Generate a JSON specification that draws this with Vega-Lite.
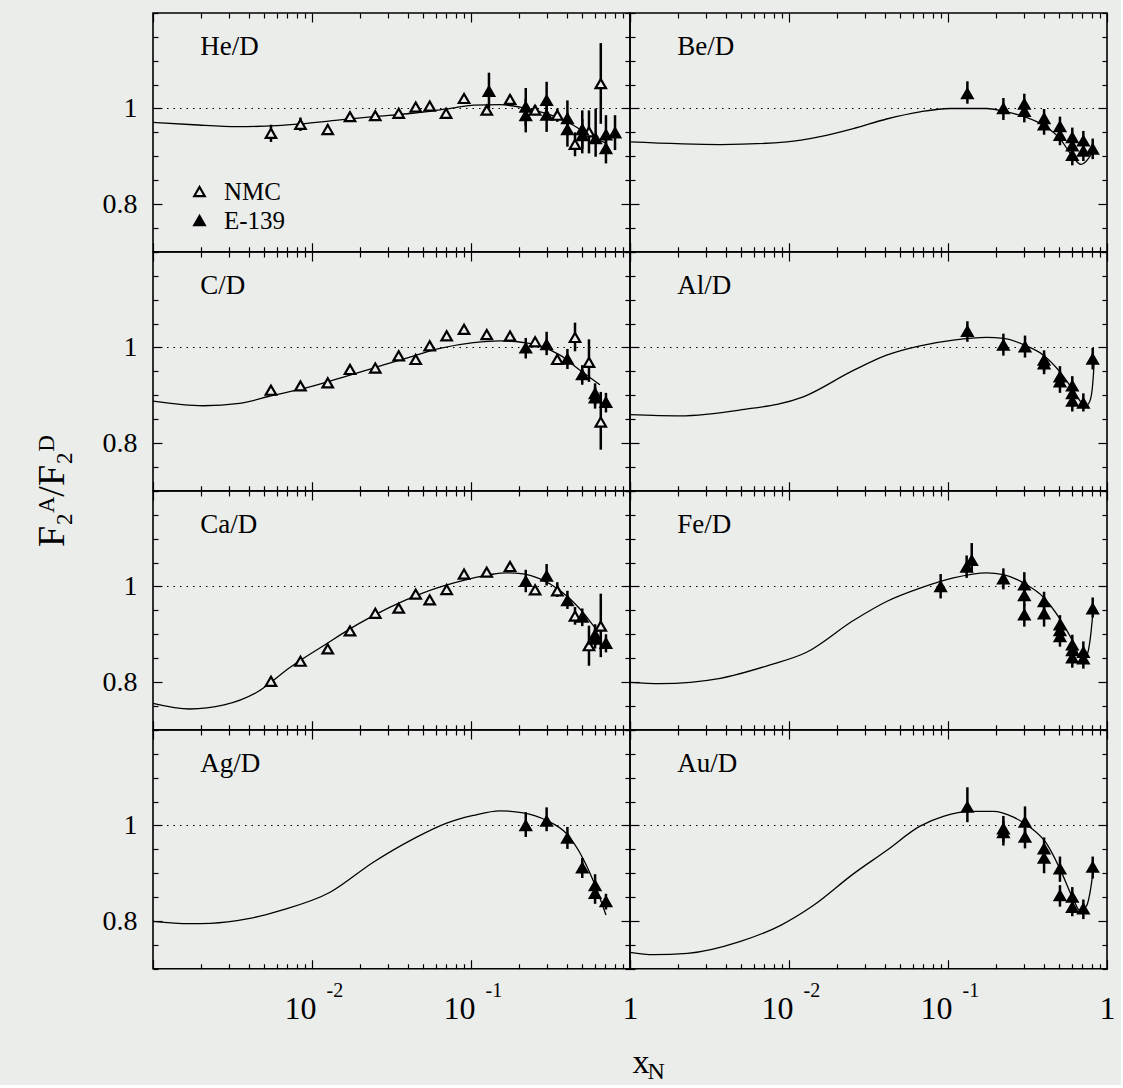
{
"$schema": "https://vega.github.io/schema/vega-lite/v6.json",
"background": "#ebedeb",
"padding": {"left": 32, "top": 11, "right": 5, "bottom": 0},
"config": {
 "view": {"stroke": "black", "strokeWidth": 1.6},
 "axis": {"domain": false, "grid": false, "tickColor": "black", "tickWidth": 1.2, "labelColor": "black", "labelFont": "Liberation Serif", "labelOverlap": false, "labelFlush": false, "labelBound": false, "titleFont": "Liberation Serif", "titleColor": "black", "titleFontWeight": "normal"}
},
"datasets": {
 "d": [
  {"p":"He","s":"c","x":0.001,"y":0.971},{"p":"He","s":"c","x":0.0018,"y":0.966},{"p":"He","s":"c","x":0.0034,"y":0.962},{"p":"He","s":"c","x":0.006,"y":0.964},{"p":"He","s":"c","x":0.0093,"y":0.969},{"p":"He","s":"c","x":0.015,"y":0.976},{"p":"He","s":"c","x":0.0243,"y":0.983},{"p":"He","s":"c","x":0.04,"y":0.989},{"p":"He","s":"c","x":0.055,"y":0.994},{"p":"He","s":"c","x":0.08,"y":1.002},{"p":"He","s":"c","x":0.104,"y":1.007},{"p":"He","s":"c","x":0.152,"y":1.008},{"p":"He","s":"c","x":0.203,"y":1.003},{"p":"He","s":"c","x":0.272,"y":0.993},{"p":"He","s":"c","x":0.363,"y":0.979},{"p":"He","s":"c","x":0.44,"y":0.965},{"p":"He","s":"c","x":0.533,"y":0.948},{"p":"He","s":"c","x":0.63,"y":0.935},{"p":"He","s":"c","x":0.7,"y":0.928},
  {"p":"He","s":"NMC","x":0.00552,"y":0.948,"lo":0.93,"hi":0.966},{"p":"He","s":"NMC","x":0.00846,"y":0.967,"lo":0.953,"hi":0.981},{"p":"He","s":"NMC","x":0.01256,"y":0.956,"lo":0.946,"hi":0.966},{"p":"He","s":"NMC","x":0.01734,"y":0.983,"lo":0.975,"hi":0.991},{"p":"He","s":"NMC","x":0.025,"y":0.985,"lo":0.978,"hi":0.992},{"p":"He","s":"NMC","x":0.0351,"y":0.99,"lo":0.983,"hi":0.997},{"p":"He","s":"NMC","x":0.0449,"y":1.003,"lo":0.996,"hi":1.01},{"p":"He","s":"NMC","x":0.055,"y":1.005,"lo":0.998,"hi":1.012},{"p":"He","s":"NMC","x":0.0697,"y":0.99,"lo":0.983,"hi":0.997},{"p":"He","s":"NMC","x":0.0904,"y":1.021,"lo":1.013,"hi":1.029},{"p":"He","s":"NMC","x":0.1256,"y":0.9965,"lo":0.988,"hi":1.005},{"p":"He","s":"NMC","x":0.176,"y":1.019,"lo":1.01,"hi":1.028},{"p":"He","s":"NMC","x":0.253,"y":0.9965,"lo":0.986,"hi":1.007},{"p":"He","s":"NMC","x":0.349,"y":0.986,"lo":0.972,"hi":1.0},{"p":"He","s":"NMC","x":0.451,"y":0.925,"lo":0.9,"hi":0.95},{"p":"He","s":"NMC","x":0.552,"y":0.951,"lo":0.906,"hi":0.996},{"p":"He","s":"NMC","x":0.655,"y":1.052,"lo":0.968,"hi":1.137},
  {"p":"He","s":"E-139","x":0.1297,"y":1.036,"lo":1.0,"hi":1.075},{"p":"He","s":"E-139","x":0.221,"y":1.003,"lo":0.963,"hi":1.043},{"p":"He","s":"E-139","x":0.221,"y":0.985,"lo":0.95,"hi":1.02},{"p":"He","s":"E-139","x":0.299,"y":1.017,"lo":0.979,"hi":1.056},{"p":"He","s":"E-139","x":0.299,"y":0.986,"lo":0.951,"hi":1.021},{"p":"He","s":"E-139","x":0.404,"y":0.979,"lo":0.944,"hi":1.017},{"p":"He","s":"E-139","x":0.404,"y":0.956,"lo":0.92,"hi":0.991},{"p":"He","s":"E-139","x":0.501,"y":0.956,"lo":0.916,"hi":0.996},{"p":"He","s":"E-139","x":0.501,"y":0.943,"lo":0.906,"hi":0.978},{"p":"He","s":"E-139","x":0.608,"y":0.937,"lo":0.899,"hi":1.0},{"p":"He","s":"E-139","x":0.706,"y":0.945,"lo":0.915,"hi":0.986},{"p":"He","s":"E-139","x":0.706,"y":0.916,"lo":0.885,"hi":0.95},{"p":"He","s":"E-139","x":0.805,"y":0.949,"lo":0.913,"hi":0.986},

  {"p":"Be","s":"c","x":0.001,"y":0.93},{"p":"Be","s":"c","x":0.0037,"y":0.9245},{"p":"Be","s":"c","x":0.0097,"y":0.93},{"p":"Be","s":"c","x":0.0157,"y":0.941},{"p":"Be","s":"c","x":0.0254,"y":0.958},{"p":"Be","s":"c","x":0.0411,"y":0.978},{"p":"Be","s":"c","x":0.0667,"y":0.993},{"p":"Be","s":"c","x":0.103,"y":1.0},{"p":"Be","s":"c","x":0.175,"y":1.0},{"p":"Be","s":"c","x":0.223,"y":0.994},{"p":"Be","s":"c","x":0.305,"y":0.9825},{"p":"Be","s":"c","x":0.398,"y":0.965},{"p":"Be","s":"c","x":0.506,"y":0.937},{"p":"Be","s":"c","x":0.6,"y":0.902},{"p":"Be","s":"c","x":0.686,"y":0.883},{"p":"Be","s":"c","x":0.763,"y":0.895},{"p":"Be","s":"c","x":0.821,"y":0.913},
  {"p":"Be","s":"E-139","x":0.1324,"y":1.031,"lo":1.01,"hi":1.057},{"p":"Be","s":"E-139","x":0.223,"y":1.0,"lo":0.976,"hi":1.022},{"p":"Be","s":"E-139","x":0.302,"y":1.009,"lo":0.988,"hi":1.031},{"p":"Be","s":"E-139","x":0.302,"y":0.994,"lo":0.971,"hi":1.012},{"p":"Be","s":"E-139","x":0.402,"y":0.979,"lo":0.958,"hi":0.999},{"p":"Be","s":"E-139","x":0.402,"y":0.966,"lo":0.945,"hi":0.987},{"p":"Be","s":"E-139","x":0.506,"y":0.962,"lo":0.941,"hi":0.983},{"p":"Be","s":"E-139","x":0.506,"y":0.944,"lo":0.923,"hi":0.965},{"p":"Be","s":"E-139","x":0.605,"y":0.939,"lo":0.918,"hi":0.96},{"p":"Be","s":"E-139","x":0.605,"y":0.922,"lo":0.9,"hi":0.943},{"p":"Be","s":"E-139","x":0.605,"y":0.902,"lo":0.881,"hi":0.923},{"p":"Be","s":"E-139","x":0.71,"y":0.932,"lo":0.912,"hi":0.953},{"p":"Be","s":"E-139","x":0.71,"y":0.911,"lo":0.89,"hi":0.932},{"p":"Be","s":"E-139","x":0.813,"y":0.915,"lo":0.894,"hi":0.937},

  {"p":"C","s":"c","x":0.001,"y":0.8875},{"p":"C","s":"c","x":0.00207,"y":0.878},{"p":"C","s":"c","x":0.0035,"y":0.883},{"p":"C","s":"c","x":0.0057,"y":0.9},{"p":"C","s":"c","x":0.0093,"y":0.916},{"p":"C","s":"c","x":0.015,"y":0.936},{"p":"C","s":"c","x":0.0243,"y":0.957},{"p":"C","s":"c","x":0.0394,"y":0.978},{"p":"C","s":"c","x":0.0638,"y":0.998},{"p":"C","s":"c","x":0.1035,"y":1.01},{"p":"C","s":"c","x":0.152,"y":1.014},{"p":"C","s":"c","x":0.213,"y":1.0105},{"p":"C","s":"c","x":0.272,"y":1.0035},{"p":"C","s":"c","x":0.363,"y":0.984},{"p":"C","s":"c","x":0.485,"y":0.9525},{"p":"C","s":"c","x":0.647,"y":0.922},
  {"p":"C","s":"NMC","x":0.00552,"y":0.9106,"lo":0.904,"hi":0.917},{"p":"C","s":"NMC","x":0.00846,"y":0.9196,"lo":0.913,"hi":0.926},{"p":"C","s":"NMC","x":0.01256,"y":0.926,"lo":0.92,"hi":0.932},{"p":"C","s":"NMC","x":0.01734,"y":0.954,"lo":0.948,"hi":0.96},{"p":"C","s":"NMC","x":0.025,"y":0.957,"lo":0.951,"hi":0.963},{"p":"C","s":"NMC","x":0.0351,"y":0.9825,"lo":0.977,"hi":0.988},{"p":"C","s":"NMC","x":0.0449,"y":0.975,"lo":0.969,"hi":0.981},{"p":"C","s":"NMC","x":0.055,"y":1.0035,"lo":0.997,"hi":1.01},{"p":"C","s":"NMC","x":0.0703,"y":1.0245,"lo":1.018,"hi":1.031},{"p":"C","s":"NMC","x":0.0904,"y":1.038,"lo":1.031,"hi":1.045},{"p":"C","s":"NMC","x":0.1256,"y":1.027,"lo":1.02,"hi":1.034},{"p":"C","s":"NMC","x":0.176,"y":1.024,"lo":1.017,"hi":1.031},{"p":"C","s":"NMC","x":0.253,"y":1.012,"lo":1.004,"hi":1.02},{"p":"C","s":"NMC","x":0.349,"y":0.975,"lo":0.965,"hi":0.985},{"p":"C","s":"NMC","x":0.451,"y":1.021,"lo":0.992,"hi":1.052},{"p":"C","s":"NMC","x":0.552,"y":0.969,"lo":0.928,"hi":1.017},{"p":"C","s":"NMC","x":0.655,"y":0.844,"lo":0.786,"hi":0.907},
  {"p":"C","s":"E-139","x":0.221,"y":0.999,"lo":0.977,"hi":1.02},{"p":"C","s":"E-139","x":0.299,"y":1.006,"lo":0.984,"hi":1.033},{"p":"C","s":"E-139","x":0.404,"y":0.9755,"lo":0.955,"hi":0.997},{"p":"C","s":"E-139","x":0.501,"y":0.943,"lo":0.922,"hi":0.963},{"p":"C","s":"E-139","x":0.603,"y":0.9035,"lo":0.88,"hi":0.925},{"p":"C","s":"E-139","x":0.603,"y":0.8945,"lo":0.872,"hi":0.917},{"p":"C","s":"E-139","x":0.706,"y":0.885,"lo":0.864,"hi":0.905},

  {"p":"Al","s":"c","x":0.001,"y":0.8595},{"p":"Al","s":"c","x":0.00206,"y":0.857},{"p":"Al","s":"c","x":0.0049,"y":0.869},{"p":"Al","s":"c","x":0.0123,"y":0.8966},{"p":"Al","s":"c","x":0.0254,"y":0.952},{"p":"Al","s":"c","x":0.0411,"y":0.984},{"p":"Al","s":"c","x":0.0667,"y":1.0035},{"p":"Al","s":"c","x":0.108,"y":1.0154},{"p":"Al","s":"c","x":0.175,"y":1.021},{"p":"Al","s":"c","x":0.223,"y":1.019},{"p":"Al","s":"c","x":0.313,"y":1.003},{"p":"Al","s":"c","x":0.398,"y":0.984},{"p":"Al","s":"c","x":0.506,"y":0.949},{"p":"Al","s":"c","x":0.613,"y":0.9106},{"p":"Al","s":"c","x":0.71,"y":0.881},{"p":"Al","s":"c","x":0.745,"y":0.879},{"p":"Al","s":"c","x":0.789,"y":0.893},{"p":"Al","s":"c","x":0.821,"y":0.942},{"p":"Al","s":"c","x":0.832,"y":0.975},
  {"p":"Al","s":"E-139","x":0.1324,"y":1.034,"lo":1.012,"hi":1.055},{"p":"Al","s":"E-139","x":0.223,"y":1.005,"lo":0.983,"hi":1.029},{"p":"Al","s":"E-139","x":0.305,"y":1.0015,"lo":0.979,"hi":1.025},{"p":"Al","s":"E-139","x":0.402,"y":0.9735,"lo":0.95,"hi":0.994},{"p":"Al","s":"E-139","x":0.402,"y":0.966,"lo":0.944,"hi":0.987},{"p":"Al","s":"E-139","x":0.506,"y":0.9385,"lo":0.917,"hi":0.961},{"p":"Al","s":"E-139","x":0.506,"y":0.928,"lo":0.905,"hi":0.95},{"p":"Al","s":"E-139","x":0.605,"y":0.9196,"lo":0.897,"hi":0.94},{"p":"Al","s":"E-139","x":0.605,"y":0.9036,"lo":0.881,"hi":0.925},{"p":"Al","s":"E-139","x":0.605,"y":0.8875,"lo":0.866,"hi":0.909},{"p":"Al","s":"E-139","x":0.71,"y":0.8833,"lo":0.866,"hi":0.904},{"p":"Al","s":"E-139","x":0.813,"y":0.9755,"lo":0.954,"hi":0.999},

  {"p":"Ca","s":"c","x":0.001,"y":0.7554},{"p":"Ca","s":"c","x":0.0017,"y":0.7435},{"p":"Ca","s":"c","x":0.0028,"y":0.752},{"p":"Ca","s":"c","x":0.0045,"y":0.7785},{"p":"Ca","s":"c","x":0.0073,"y":0.831},{"p":"Ca","s":"c","x":0.0118,"y":0.876},{"p":"Ca","s":"c","x":0.0191,"y":0.9196},{"p":"Ca","s":"c","x":0.031,"y":0.9567},{"p":"Ca","s":"c","x":0.0501,"y":0.9867},{"p":"Ca","s":"c","x":0.0813,"y":1.009},{"p":"Ca","s":"c","x":0.1318,"y":1.025},{"p":"Ca","s":"c","x":0.1675,"y":1.0287},{"p":"Ca","s":"c","x":0.213,"y":1.0266},{"p":"Ca","s":"c","x":0.272,"y":1.016},{"p":"Ca","s":"c","x":0.363,"y":0.9916},{"p":"Ca","s":"c","x":0.485,"y":0.953},{"p":"Ca","s":"c","x":0.588,"y":0.918},{"p":"Ca","s":"c","x":0.63,"y":0.905},
  {"p":"Ca","s":"NMC","x":0.00552,"y":0.8015,"lo":0.793,"hi":0.81},{"p":"Ca","s":"NMC","x":0.00846,"y":0.8435,"lo":0.836,"hi":0.851},{"p":"Ca","s":"NMC","x":0.01256,"y":0.8693,"lo":0.862,"hi":0.876},{"p":"Ca","s":"NMC","x":0.01734,"y":0.907,"lo":0.9,"hi":0.914},{"p":"Ca","s":"NMC","x":0.025,"y":0.944,"lo":0.937,"hi":0.951},{"p":"Ca","s":"NMC","x":0.0351,"y":0.9546,"lo":0.948,"hi":0.961},{"p":"Ca","s":"NMC","x":0.0449,"y":0.984,"lo":0.977,"hi":0.991},{"p":"Ca","s":"NMC","x":0.055,"y":0.972,"lo":0.965,"hi":0.979},{"p":"Ca","s":"NMC","x":0.0703,"y":0.9937,"lo":0.987,"hi":1.0},{"p":"Ca","s":"NMC","x":0.0904,"y":1.026,"lo":1.019,"hi":1.033},{"p":"Ca","s":"NMC","x":0.1256,"y":1.03,"lo":1.023,"hi":1.037},{"p":"Ca","s":"NMC","x":0.176,"y":1.042,"lo":1.035,"hi":1.049},{"p":"Ca","s":"NMC","x":0.253,"y":0.993,"lo":0.985,"hi":1.001},{"p":"Ca","s":"NMC","x":0.349,"y":0.991,"lo":0.978,"hi":1.009},{"p":"Ca","s":"NMC","x":0.451,"y":0.938,"lo":0.92,"hi":0.957},{"p":"Ca","s":"NMC","x":0.552,"y":0.876,"lo":0.834,"hi":0.918},{"p":"Ca","s":"NMC","x":0.655,"y":0.917,"lo":0.852,"hi":0.985},
  {"p":"Ca","s":"E-139","x":0.221,"y":1.011,"lo":0.988,"hi":1.035},{"p":"Ca","s":"E-139","x":0.299,"y":1.022,"lo":1.002,"hi":1.047},{"p":"Ca","s":"E-139","x":0.404,"y":0.9706,"lo":0.953,"hi":0.991},{"p":"Ca","s":"E-139","x":0.501,"y":0.9357,"lo":0.917,"hi":0.954},{"p":"Ca","s":"E-139","x":0.603,"y":0.8987,"lo":0.876,"hi":0.921},{"p":"Ca","s":"E-139","x":0.603,"y":0.89,"lo":0.87,"hi":0.91},{"p":"Ca","s":"E-139","x":0.706,"y":0.881,"lo":0.862,"hi":0.9},

  {"p":"Fe","s":"c","x":0.001,"y":0.7994},{"p":"Fe","s":"c","x":0.00155,"y":0.7966},{"p":"Fe","s":"c","x":0.0037,"y":0.8078},{"p":"Fe","s":"c","x":0.0076,"y":0.8358},{"p":"Fe","s":"c","x":0.0129,"y":0.8623},{"p":"Fe","s":"c","x":0.0254,"y":0.9287},{"p":"Fe","s":"c","x":0.0411,"y":0.9686},{"p":"Fe","s":"c","x":0.0667,"y":0.9965},{"p":"Fe","s":"c","x":0.108,"y":1.018},{"p":"Fe","s":"c","x":0.175,"y":1.0287},{"p":"Fe","s":"c","x":0.223,"y":1.025},{"p":"Fe","s":"c","x":0.305,"y":1.0056},{"p":"Fe","s":"c","x":0.398,"y":0.9776},{"p":"Fe","s":"c","x":0.506,"y":0.932},{"p":"Fe","s":"c","x":0.613,"y":0.8833},{"p":"Fe","s":"c","x":0.693,"y":0.848},{"p":"Fe","s":"c","x":0.745,"y":0.855},{"p":"Fe","s":"c","x":0.789,"y":0.897},{"p":"Fe","s":"c","x":0.821,"y":0.9567},
  {"p":"Fe","s":"E-139","x":0.0899,"y":1.0,"lo":0.975,"hi":1.026},{"p":"Fe","s":"E-139","x":0.131,"y":1.0405,"lo":1.018,"hi":1.065},{"p":"Fe","s":"E-139","x":0.141,"y":1.0545,"lo":1.03,"hi":1.091},{"p":"Fe","s":"E-139","x":0.223,"y":1.016,"lo":0.994,"hi":1.038},{"p":"Fe","s":"E-139","x":0.302,"y":1.0035,"lo":0.981,"hi":1.03},{"p":"Fe","s":"E-139","x":0.302,"y":0.981,"lo":0.96,"hi":1.0},{"p":"Fe","s":"E-139","x":0.302,"y":0.9406,"lo":0.916,"hi":0.963},{"p":"Fe","s":"E-139","x":0.402,"y":0.9686,"lo":0.948,"hi":0.989},{"p":"Fe","s":"E-139","x":0.402,"y":0.9427,"lo":0.916,"hi":0.963},{"p":"Fe","s":"E-139","x":0.506,"y":0.9196,"lo":0.899,"hi":0.94},{"p":"Fe","s":"E-139","x":0.506,"y":0.9078,"lo":0.887,"hi":0.928},{"p":"Fe","s":"E-139","x":0.506,"y":0.8952,"lo":0.874,"hi":0.916},{"p":"Fe","s":"E-139","x":0.605,"y":0.8777,"lo":0.856,"hi":0.899},{"p":"Fe","s":"E-139","x":0.605,"y":0.8658,"lo":0.845,"hi":0.886},{"p":"Fe","s":"E-139","x":0.605,"y":0.8505,"lo":0.83,"hi":0.872},{"p":"Fe","s":"E-139","x":0.71,"y":0.8623,"lo":0.84,"hi":0.885},{"p":"Fe","s":"E-139","x":0.71,"y":0.8484,"lo":0.828,"hi":0.869},{"p":"Fe","s":"E-139","x":0.813,"y":0.9532,"lo":0.935,"hi":0.977},

  {"p":"Ag","s":"c","x":0.001,"y":0.7994},{"p":"Ag","s":"c","x":0.0017,"y":0.7945},{"p":"Ag","s":"c","x":0.0023,"y":0.7952},{"p":"Ag","s":"c","x":0.0039,"y":0.8043},{"p":"Ag","s":"c","x":0.0063,"y":0.8218},{"p":"Ag","s":"c","x":0.013,"y":0.8602},{"p":"Ag","s":"c","x":0.0243,"y":0.9231},{"p":"Ag","s":"c","x":0.0434,"y":0.972},{"p":"Ag","s":"c","x":0.0703,"y":1.005},{"p":"Ag","s":"c","x":0.1035,"y":1.021},{"p":"Ag","s":"c","x":0.152,"y":1.0307},{"p":"Ag","s":"c","x":0.213,"y":1.0266},{"p":"Ag","s":"c","x":0.299,"y":1.0105},{"p":"Ag","s":"c","x":0.4,"y":0.9825},{"p":"Ag","s":"c","x":0.508,"y":0.93},{"p":"Ag","s":"c","x":0.616,"y":0.8672},{"p":"Ag","s":"c","x":0.706,"y":0.8127},
  {"p":"Ag","s":"E-139","x":0.221,"y":1.0,"lo":0.976,"hi":1.028},{"p":"Ag","s":"E-139","x":0.299,"y":1.009,"lo":0.988,"hi":1.038},{"p":"Ag","s":"E-139","x":0.404,"y":0.9734,"lo":0.951,"hi":0.997},{"p":"Ag","s":"E-139","x":0.501,"y":0.9112,"lo":0.89,"hi":0.932},{"p":"Ag","s":"E-139","x":0.603,"y":0.8742,"lo":0.855,"hi":0.898},{"p":"Ag","s":"E-139","x":0.603,"y":0.858,"lo":0.836,"hi":0.878},{"p":"Ag","s":"E-139","x":0.706,"y":0.8407,"lo":0.824,"hi":0.857},

  {"p":"Au","s":"c","x":0.001,"y":0.7345},{"p":"Au","s":"c","x":0.0014,"y":0.7296},{"p":"Au","s":"c","x":0.0023,"y":0.7323},{"p":"Au","s":"c","x":0.0049,"y":0.7568},{"p":"Au","s":"c","x":0.0088,"y":0.7904},{"p":"Au","s":"c","x":0.0142,"y":0.8323},{"p":"Au","s":"c","x":0.0254,"y":0.8987},{"p":"Au","s":"c","x":0.0411,"y":0.9476},{"p":"Au","s":"c","x":0.0667,"y":0.9986},{"p":"Au","s":"c","x":0.0935,"y":1.0189},{"p":"Au","s":"c","x":0.1375,"y":1.0294},{"p":"Au","s":"c","x":0.193,"y":1.0294},{"p":"Au","s":"c","x":0.258,"y":1.0175},{"p":"Au","s":"c","x":0.328,"y":0.9965},{"p":"Au","s":"c","x":0.418,"y":0.9616},{"p":"Au","s":"c","x":0.506,"y":0.9092},{"p":"Au","s":"c","x":0.613,"y":0.8463},{"p":"Au","s":"c","x":0.676,"y":0.8218},{"p":"Au","s":"c","x":0.745,"y":0.8323},{"p":"Au","s":"c","x":0.789,"y":0.8672},{"p":"Au","s":"c","x":0.821,"y":0.9092},
  {"p":"Au","s":"E-139","x":0.1324,"y":1.0384,"lo":1.007,"hi":1.08},{"p":"Au","s":"E-139","x":0.223,"y":0.993,"lo":0.965,"hi":1.02},{"p":"Au","s":"E-139","x":0.223,"y":0.985,"lo":0.958,"hi":1.01},{"p":"Au","s":"E-139","x":0.305,"y":1.007,"lo":0.983,"hi":1.04},{"p":"Au","s":"E-139","x":0.305,"y":0.9755,"lo":0.952,"hi":0.998},{"p":"Au","s":"E-139","x":0.402,"y":0.951,"lo":0.93,"hi":0.975},{"p":"Au","s":"E-139","x":0.402,"y":0.9315,"lo":0.9,"hi":0.955},{"p":"Au","s":"E-139","x":0.506,"y":0.909,"lo":0.882,"hi":0.935},{"p":"Au","s":"E-139","x":0.506,"y":0.8533,"lo":0.83,"hi":0.875},{"p":"Au","s":"E-139","x":0.605,"y":0.8498,"lo":0.827,"hi":0.871},{"p":"Au","s":"E-139","x":0.605,"y":0.8288,"lo":0.81,"hi":0.85},{"p":"Au","s":"E-139","x":0.71,"y":0.8253,"lo":0.804,"hi":0.845},{"p":"Au","s":"E-139","x":0.813,"y":0.9127,"lo":0.889,"hi":0.935}
 ]
},
"columns": 2,
"spacing": 0,
"bounds": "flush",
"resolve": {"scale": {"fill": "independent"}, "legend": {"fill": "independent"}},
"concat": [
 {"width": 477, "height": 238.75, "data": {"name": "d"}, "resolve": {"axis": {"x": "independent", "y": "independent"}},
  "layer": [
   {"data": {"values": [{}]}, "mark": {"type": "rule", "strokeDash": [1.5, 5], "strokeWidth": 1.2, "color": "black"}, "encoding": {"y": {"datum": 1, "type": "quantitative", "scale": {"domain": [0.7, 1.2], "zero": false}, "axis": null}}},
   {"transform": [{"filter": "datum.p == 'He' && datum.s == 'c'"}], "mark": {"type": "line", "color": "black", "strokeWidth": 1.3, "interpolate": "monotone"},
    "encoding": {"x": {"field": "x", "type": "quantitative", "scale": {"type": "log", "domain": [0.001, 1]}, "axis": {"orient": "bottom", "values": [0.001,0.002,0.003,0.004,0.005,0.006,0.007,0.008,0.009,0.01,0.02,0.03,0.04,0.05,0.06,0.07,0.08,0.09,0.1,0.2,0.3,0.4,0.5,0.6,0.7,0.8,0.9,1], "tickSize": {"condition": {"test": "datum.value==0.001||datum.value==0.01||datum.value==0.1||datum.value==1", "value": -9}, "value": -5}, "labels": false, "title": null}},
     "y": {"field": "y", "type": "quantitative", "scale": {"domain": [0.7, 1.2], "zero": false}, "axis": {"orient": "left", "values": [0.7,0.75,0.8,0.85,0.9,0.95,1,1.05,1.1,1.15,1.2], "tickSize": {"condition": {"test": "datum.value==0.8||datum.value==1", "value": -9}, "value": -5}, "labels": true, "labelExpr": "datum.value==1?'1':datum.value==0.8?'0.8':''", "labelFontSize": {"condition": {"test": "datum.value==0.8||datum.value==1", "value": 28}, "value": 0}, "labelPadding": 25, "labelBaseline": "middle", "labelAlign": "right", "title": null}}}},
   {"transform": [{"filter": "datum.p == 'He' && datum.s != 'c'"}], "mark": {"type": "rule", "color": "black", "strokeWidth": 2.5},
    "encoding": {"x": {"field": "x", "type": "quantitative", "scale": {"type": "log", "domain": [0.001, 1]}, "axis": {"orient": "top", "values": [0.001,0.002,0.003,0.004,0.005,0.006,0.007,0.008,0.009,0.01,0.02,0.03,0.04,0.05,0.06,0.07,0.08,0.09,0.1,0.2,0.3,0.4,0.5,0.6,0.7,0.8,0.9,1], "tickSize": {"condition": {"test": "datum.value==0.001||datum.value==0.01||datum.value==0.1||datum.value==1", "value": -9}, "value": -5}, "labels": false, "title": null}},
     "y": {"field": "lo", "type": "quantitative", "scale": {"domain": [0.7, 1.2], "zero": false}, "axis": {"orient": "right", "values": [0.7,0.75,0.8,0.85,0.9,0.95,1,1.05,1.1,1.15,1.2], "tickSize": {"condition": {"test": "datum.value==0.8||datum.value==1", "value": -9}, "value": -5}, "labels": false, "title": null}},
     "y2": {"field": "hi"}}},
   {"transform": [{"filter": "datum.p == 'He' && datum.s != 'c'"}], "mark": {"type": "point", "shape": "triangle-up", "filled": true, "size": 110, "stroke": "black", "strokeWidth": 2.2, "opacity": 1},
    "encoding": {"x": {"field": "x", "type": "quantitative", "scale": {"type": "log", "domain": [0.001, 1]}, "axis": null},
     "y": {"field": "y", "type": "quantitative", "scale": {"domain": [0.7, 1.2], "zero": false}, "axis": null},
     "fill": {"field": "s", "type": "nominal", "scale": {"domain": ["NMC", "E-139"], "range": ["#ebedeb", "black"]}, "legend": {"orient": "none", "legendX": 34, "legendY": 166, "title": null, "symbolType": "triangle-up", "symbolSize": 110, "symbolStrokeColor": "black", "symbolStrokeWidth": 2.2, "labelFont": "Liberation Serif", "labelFontSize": 25, "labelColor": "black", "labelOffset": 12, "rowPadding": 3, "padding": 0}}}},
   {"data": {"values": [{"t": "He/D"}]}, "mark": {"type": "text", "align": "left", "baseline": "alphabetic", "font": "Liberation Serif", "fontSize": 27, "color": "black"},
    "encoding": {"x": {"datum": 0.00198, "type": "quantitative", "scale": {"type": "log", "domain": [0.001, 1]}, "axis": null}, "y": {"datum": 1.112, "type": "quantitative", "scale": {"domain": [0.7, 1.2], "zero": false}, "axis": null}, "text": {"field": "t"}}}
  ]},
 {"width": 477, "height": 238.75, "data": {"name": "d"}, "resolve": {"axis": {"x": "independent", "y": "independent"}},
  "layer": [
   {"data": {"values": [{}]}, "mark": {"type": "rule", "strokeDash": [1.5, 5], "strokeWidth": 1.2, "color": "black"}, "encoding": {"y": {"datum": 1, "type": "quantitative", "scale": {"domain": [0.7, 1.2], "zero": false}, "axis": null}}},
   {"transform": [{"filter": "datum.p == 'Be' && datum.s == 'c'"}], "mark": {"type": "line", "color": "black", "strokeWidth": 1.3, "interpolate": "monotone"},
    "encoding": {"x": {"field": "x", "type": "quantitative", "scale": {"type": "log", "domain": [0.001, 1]}, "axis": {"orient": "bottom", "values": [0.001,0.002,0.003,0.004,0.005,0.006,0.007,0.008,0.009,0.01,0.02,0.03,0.04,0.05,0.06,0.07,0.08,0.09,0.1,0.2,0.3,0.4,0.5,0.6,0.7,0.8,0.9,1], "tickSize": {"condition": {"test": "datum.value==0.001||datum.value==0.01||datum.value==0.1||datum.value==1", "value": -9}, "value": -5}, "labels": false, "title": null}},
     "y": {"field": "y", "type": "quantitative", "scale": {"domain": [0.7, 1.2], "zero": false}, "axis": {"orient": "left", "values": [0.7,0.75,0.8,0.85,0.9,0.95,1,1.05,1.1,1.15,1.2], "tickSize": {"condition": {"test": "datum.value==0.8||datum.value==1", "value": -9}, "value": -5}, "labels": false, "title": null}}}},
   {"transform": [{"filter": "datum.p == 'Be' && datum.s != 'c'"}], "mark": {"type": "rule", "color": "black", "strokeWidth": 2.5},
    "encoding": {"x": {"field": "x", "type": "quantitative", "scale": {"type": "log", "domain": [0.001, 1]}, "axis": {"orient": "top", "values": [0.001,0.002,0.003,0.004,0.005,0.006,0.007,0.008,0.009,0.01,0.02,0.03,0.04,0.05,0.06,0.07,0.08,0.09,0.1,0.2,0.3,0.4,0.5,0.6,0.7,0.8,0.9,1], "tickSize": {"condition": {"test": "datum.value==0.001||datum.value==0.01||datum.value==0.1||datum.value==1", "value": -9}, "value": -5}, "labels": false, "title": null}},
     "y": {"field": "lo", "type": "quantitative", "scale": {"domain": [0.7, 1.2], "zero": false}, "axis": {"orient": "right", "values": [0.7,0.75,0.8,0.85,0.9,0.95,1,1.05,1.1,1.15,1.2], "tickSize": {"condition": {"test": "datum.value==0.8||datum.value==1", "value": -9}, "value": -5}, "labels": false, "title": null}},
     "y2": {"field": "hi"}}},
   {"transform": [{"filter": "datum.p == 'Be' && datum.s != 'c'"}], "mark": {"type": "point", "shape": "triangle-up", "filled": true, "size": 110, "stroke": "black", "strokeWidth": 2.2, "opacity": 1},
    "encoding": {"x": {"field": "x", "type": "quantitative", "scale": {"type": "log", "domain": [0.001, 1]}, "axis": null},
     "y": {"field": "y", "type": "quantitative", "scale": {"domain": [0.7, 1.2], "zero": false}, "axis": null},
     "fill": {"field": "s", "type": "nominal", "scale": {"domain": ["NMC", "E-139"], "range": ["#ebedeb", "black"]}, "legend": null}}},
   {"data": {"values": [{"t": "Be/D"}]}, "mark": {"type": "text", "align": "left", "baseline": "alphabetic", "font": "Liberation Serif", "fontSize": 27, "color": "black"},
    "encoding": {"x": {"datum": 0.00198, "type": "quantitative", "scale": {"type": "log", "domain": [0.001, 1]}, "axis": null}, "y": {"datum": 1.112, "type": "quantitative", "scale": {"domain": [0.7, 1.2], "zero": false}, "axis": null}, "text": {"field": "t"}}}
  ]},
 {"width": 477, "height": 238.75, "data": {"name": "d"}, "resolve": {"axis": {"x": "independent", "y": "independent"}},
  "layer": [
   {"data": {"values": [{}]}, "mark": {"type": "rule", "strokeDash": [1.5, 5], "strokeWidth": 1.2, "color": "black"}, "encoding": {"y": {"datum": 1, "type": "quantitative", "scale": {"domain": [0.7, 1.2], "zero": false}, "axis": null}}},
   {"transform": [{"filter": "datum.p == 'C' && datum.s == 'c'"}], "mark": {"type": "line", "color": "black", "strokeWidth": 1.3, "interpolate": "monotone"},
    "encoding": {"x": {"field": "x", "type": "quantitative", "scale": {"type": "log", "domain": [0.001, 1]}, "axis": {"orient": "bottom", "values": [0.001,0.002,0.003,0.004,0.005,0.006,0.007,0.008,0.009,0.01,0.02,0.03,0.04,0.05,0.06,0.07,0.08,0.09,0.1,0.2,0.3,0.4,0.5,0.6,0.7,0.8,0.9,1], "tickSize": {"condition": {"test": "datum.value==0.001||datum.value==0.01||datum.value==0.1||datum.value==1", "value": -9}, "value": -5}, "labels": false, "title": null}},
     "y": {"field": "y", "type": "quantitative", "scale": {"domain": [0.7, 1.2], "zero": false}, "axis": {"orient": "left", "values": [0.7,0.75,0.8,0.85,0.9,0.95,1,1.05,1.1,1.15,1.2], "tickSize": {"condition": {"test": "datum.value==0.8||datum.value==1", "value": -9}, "value": -5}, "labels": true, "labelExpr": "datum.value==1?'1':datum.value==0.8?'0.8':''", "labelFontSize": {"condition": {"test": "datum.value==0.8||datum.value==1", "value": 28}, "value": 0}, "labelPadding": 25, "labelBaseline": "middle", "labelAlign": "right", "title": "F₂ᴬ/F₂ᴰ", "titleFontSize": 38, "titleX": -90, "titleY": 238.75, "titleAngle": 270, "titleAlign": "center", "titleBaseline": "alphabetic"}}}},
   {"transform": [{"filter": "datum.p == 'C' && datum.s != 'c'"}], "mark": {"type": "rule", "color": "black", "strokeWidth": 2.5},
    "encoding": {"x": {"field": "x", "type": "quantitative", "scale": {"type": "log", "domain": [0.001, 1]}, "axis": {"orient": "top", "values": [0.001,0.002,0.003,0.004,0.005,0.006,0.007,0.008,0.009,0.01,0.02,0.03,0.04,0.05,0.06,0.07,0.08,0.09,0.1,0.2,0.3,0.4,0.5,0.6,0.7,0.8,0.9,1], "tickSize": {"condition": {"test": "datum.value==0.001||datum.value==0.01||datum.value==0.1||datum.value==1", "value": -9}, "value": -5}, "labels": false, "title": null}},
     "y": {"field": "lo", "type": "quantitative", "scale": {"domain": [0.7, 1.2], "zero": false}, "axis": {"orient": "right", "values": [0.7,0.75,0.8,0.85,0.9,0.95,1,1.05,1.1,1.15,1.2], "tickSize": {"condition": {"test": "datum.value==0.8||datum.value==1", "value": -9}, "value": -5}, "labels": false, "title": null}},
     "y2": {"field": "hi"}}},
   {"transform": [{"filter": "datum.p == 'C' && datum.s != 'c'"}], "mark": {"type": "point", "shape": "triangle-up", "filled": true, "size": 110, "stroke": "black", "strokeWidth": 2.2, "opacity": 1},
    "encoding": {"x": {"field": "x", "type": "quantitative", "scale": {"type": "log", "domain": [0.001, 1]}, "axis": null},
     "y": {"field": "y", "type": "quantitative", "scale": {"domain": [0.7, 1.2], "zero": false}, "axis": null},
     "fill": {"field": "s", "type": "nominal", "scale": {"domain": ["NMC", "E-139"], "range": ["#ebedeb", "black"]}, "legend": null}}},
   {"data": {"values": [{"t": "C/D"}]}, "mark": {"type": "text", "align": "left", "baseline": "alphabetic", "font": "Liberation Serif", "fontSize": 27, "color": "black"},
    "encoding": {"x": {"datum": 0.00198, "type": "quantitative", "scale": {"type": "log", "domain": [0.001, 1]}, "axis": null}, "y": {"datum": 1.112, "type": "quantitative", "scale": {"domain": [0.7, 1.2], "zero": false}, "axis": null}, "text": {"field": "t"}}}
  ]},
 {"width": 477, "height": 238.75, "data": {"name": "d"}, "resolve": {"axis": {"x": "independent", "y": "independent"}},
  "layer": [
   {"data": {"values": [{}]}, "mark": {"type": "rule", "strokeDash": [1.5, 5], "strokeWidth": 1.2, "color": "black"}, "encoding": {"y": {"datum": 1, "type": "quantitative", "scale": {"domain": [0.7, 1.2], "zero": false}, "axis": null}}},
   {"transform": [{"filter": "datum.p == 'Al' && datum.s == 'c'"}], "mark": {"type": "line", "color": "black", "strokeWidth": 1.3, "interpolate": "monotone"},
    "encoding": {"x": {"field": "x", "type": "quantitative", "scale": {"type": "log", "domain": [0.001, 1]}, "axis": {"orient": "bottom", "values": [0.001,0.002,0.003,0.004,0.005,0.006,0.007,0.008,0.009,0.01,0.02,0.03,0.04,0.05,0.06,0.07,0.08,0.09,0.1,0.2,0.3,0.4,0.5,0.6,0.7,0.8,0.9,1], "tickSize": {"condition": {"test": "datum.value==0.001||datum.value==0.01||datum.value==0.1||datum.value==1", "value": -9}, "value": -5}, "labels": false, "title": null}},
     "y": {"field": "y", "type": "quantitative", "scale": {"domain": [0.7, 1.2], "zero": false}, "axis": {"orient": "left", "values": [0.7,0.75,0.8,0.85,0.9,0.95,1,1.05,1.1,1.15,1.2], "tickSize": {"condition": {"test": "datum.value==0.8||datum.value==1", "value": -9}, "value": -5}, "labels": false, "title": null}}}},
   {"transform": [{"filter": "datum.p == 'Al' && datum.s != 'c'"}], "mark": {"type": "rule", "color": "black", "strokeWidth": 2.5},
    "encoding": {"x": {"field": "x", "type": "quantitative", "scale": {"type": "log", "domain": [0.001, 1]}, "axis": {"orient": "top", "values": [0.001,0.002,0.003,0.004,0.005,0.006,0.007,0.008,0.009,0.01,0.02,0.03,0.04,0.05,0.06,0.07,0.08,0.09,0.1,0.2,0.3,0.4,0.5,0.6,0.7,0.8,0.9,1], "tickSize": {"condition": {"test": "datum.value==0.001||datum.value==0.01||datum.value==0.1||datum.value==1", "value": -9}, "value": -5}, "labels": false, "title": null}},
     "y": {"field": "lo", "type": "quantitative", "scale": {"domain": [0.7, 1.2], "zero": false}, "axis": {"orient": "right", "values": [0.7,0.75,0.8,0.85,0.9,0.95,1,1.05,1.1,1.15,1.2], "tickSize": {"condition": {"test": "datum.value==0.8||datum.value==1", "value": -9}, "value": -5}, "labels": false, "title": null}},
     "y2": {"field": "hi"}}},
   {"transform": [{"filter": "datum.p == 'Al' && datum.s != 'c'"}], "mark": {"type": "point", "shape": "triangle-up", "filled": true, "size": 110, "stroke": "black", "strokeWidth": 2.2, "opacity": 1},
    "encoding": {"x": {"field": "x", "type": "quantitative", "scale": {"type": "log", "domain": [0.001, 1]}, "axis": null},
     "y": {"field": "y", "type": "quantitative", "scale": {"domain": [0.7, 1.2], "zero": false}, "axis": null},
     "fill": {"field": "s", "type": "nominal", "scale": {"domain": ["NMC", "E-139"], "range": ["#ebedeb", "black"]}, "legend": null}}},
   {"data": {"values": [{"t": "Al/D"}]}, "mark": {"type": "text", "align": "left", "baseline": "alphabetic", "font": "Liberation Serif", "fontSize": 27, "color": "black"},
    "encoding": {"x": {"datum": 0.00198, "type": "quantitative", "scale": {"type": "log", "domain": [0.001, 1]}, "axis": null}, "y": {"datum": 1.112, "type": "quantitative", "scale": {"domain": [0.7, 1.2], "zero": false}, "axis": null}, "text": {"field": "t"}}}
  ]},
 {"width": 477, "height": 238.75, "data": {"name": "d"}, "resolve": {"axis": {"x": "independent", "y": "independent"}},
  "layer": [
   {"data": {"values": [{}]}, "mark": {"type": "rule", "strokeDash": [1.5, 5], "strokeWidth": 1.2, "color": "black"}, "encoding": {"y": {"datum": 1, "type": "quantitative", "scale": {"domain": [0.7, 1.2], "zero": false}, "axis": null}}},
   {"transform": [{"filter": "datum.p == 'Ca' && datum.s == 'c'"}], "mark": {"type": "line", "color": "black", "strokeWidth": 1.3, "interpolate": "monotone"},
    "encoding": {"x": {"field": "x", "type": "quantitative", "scale": {"type": "log", "domain": [0.001, 1]}, "axis": {"orient": "bottom", "values": [0.001,0.002,0.003,0.004,0.005,0.006,0.007,0.008,0.009,0.01,0.02,0.03,0.04,0.05,0.06,0.07,0.08,0.09,0.1,0.2,0.3,0.4,0.5,0.6,0.7,0.8,0.9,1], "tickSize": {"condition": {"test": "datum.value==0.001||datum.value==0.01||datum.value==0.1||datum.value==1", "value": -9}, "value": -5}, "labels": false, "title": null}},
     "y": {"field": "y", "type": "quantitative", "scale": {"domain": [0.7, 1.2], "zero": false}, "axis": {"orient": "left", "values": [0.7,0.75,0.8,0.85,0.9,0.95,1,1.05,1.1,1.15,1.2], "tickSize": {"condition": {"test": "datum.value==0.8||datum.value==1", "value": -9}, "value": -5}, "labels": true, "labelExpr": "datum.value==1?'1':datum.value==0.8?'0.8':''", "labelFontSize": {"condition": {"test": "datum.value==0.8||datum.value==1", "value": 28}, "value": 0}, "labelPadding": 25, "labelBaseline": "middle", "labelAlign": "right", "title": null}}}},
   {"transform": [{"filter": "datum.p == 'Ca' && datum.s != 'c'"}], "mark": {"type": "rule", "color": "black", "strokeWidth": 2.5},
    "encoding": {"x": {"field": "x", "type": "quantitative", "scale": {"type": "log", "domain": [0.001, 1]}, "axis": {"orient": "top", "values": [0.001,0.002,0.003,0.004,0.005,0.006,0.007,0.008,0.009,0.01,0.02,0.03,0.04,0.05,0.06,0.07,0.08,0.09,0.1,0.2,0.3,0.4,0.5,0.6,0.7,0.8,0.9,1], "tickSize": {"condition": {"test": "datum.value==0.001||datum.value==0.01||datum.value==0.1||datum.value==1", "value": -9}, "value": -5}, "labels": false, "title": null}},
     "y": {"field": "lo", "type": "quantitative", "scale": {"domain": [0.7, 1.2], "zero": false}, "axis": {"orient": "right", "values": [0.7,0.75,0.8,0.85,0.9,0.95,1,1.05,1.1,1.15,1.2], "tickSize": {"condition": {"test": "datum.value==0.8||datum.value==1", "value": -9}, "value": -5}, "labels": false, "title": null}},
     "y2": {"field": "hi"}}},
   {"transform": [{"filter": "datum.p == 'Ca' && datum.s != 'c'"}], "mark": {"type": "point", "shape": "triangle-up", "filled": true, "size": 110, "stroke": "black", "strokeWidth": 2.2, "opacity": 1},
    "encoding": {"x": {"field": "x", "type": "quantitative", "scale": {"type": "log", "domain": [0.001, 1]}, "axis": null},
     "y": {"field": "y", "type": "quantitative", "scale": {"domain": [0.7, 1.2], "zero": false}, "axis": null},
     "fill": {"field": "s", "type": "nominal", "scale": {"domain": ["NMC", "E-139"], "range": ["#ebedeb", "black"]}, "legend": null}}},
   {"data": {"values": [{"t": "Ca/D"}]}, "mark": {"type": "text", "align": "left", "baseline": "alphabetic", "font": "Liberation Serif", "fontSize": 27, "color": "black"},
    "encoding": {"x": {"datum": 0.00198, "type": "quantitative", "scale": {"type": "log", "domain": [0.001, 1]}, "axis": null}, "y": {"datum": 1.112, "type": "quantitative", "scale": {"domain": [0.7, 1.2], "zero": false}, "axis": null}, "text": {"field": "t"}}}
  ]},
 {"width": 477, "height": 238.75, "data": {"name": "d"}, "resolve": {"axis": {"x": "independent", "y": "independent"}},
  "layer": [
   {"data": {"values": [{}]}, "mark": {"type": "rule", "strokeDash": [1.5, 5], "strokeWidth": 1.2, "color": "black"}, "encoding": {"y": {"datum": 1, "type": "quantitative", "scale": {"domain": [0.7, 1.2], "zero": false}, "axis": null}}},
   {"transform": [{"filter": "datum.p == 'Fe' && datum.s == 'c'"}], "mark": {"type": "line", "color": "black", "strokeWidth": 1.3, "interpolate": "monotone"},
    "encoding": {"x": {"field": "x", "type": "quantitative", "scale": {"type": "log", "domain": [0.001, 1]}, "axis": {"orient": "bottom", "values": [0.001,0.002,0.003,0.004,0.005,0.006,0.007,0.008,0.009,0.01,0.02,0.03,0.04,0.05,0.06,0.07,0.08,0.09,0.1,0.2,0.3,0.4,0.5,0.6,0.7,0.8,0.9,1], "tickSize": {"condition": {"test": "datum.value==0.001||datum.value==0.01||datum.value==0.1||datum.value==1", "value": -9}, "value": -5}, "labels": false, "title": null}},
     "y": {"field": "y", "type": "quantitative", "scale": {"domain": [0.7, 1.2], "zero": false}, "axis": {"orient": "left", "values": [0.7,0.75,0.8,0.85,0.9,0.95,1,1.05,1.1,1.15,1.2], "tickSize": {"condition": {"test": "datum.value==0.8||datum.value==1", "value": -9}, "value": -5}, "labels": false, "title": null}}}},
   {"transform": [{"filter": "datum.p == 'Fe' && datum.s != 'c'"}], "mark": {"type": "rule", "color": "black", "strokeWidth": 2.5},
    "encoding": {"x": {"field": "x", "type": "quantitative", "scale": {"type": "log", "domain": [0.001, 1]}, "axis": {"orient": "top", "values": [0.001,0.002,0.003,0.004,0.005,0.006,0.007,0.008,0.009,0.01,0.02,0.03,0.04,0.05,0.06,0.07,0.08,0.09,0.1,0.2,0.3,0.4,0.5,0.6,0.7,0.8,0.9,1], "tickSize": {"condition": {"test": "datum.value==0.001||datum.value==0.01||datum.value==0.1||datum.value==1", "value": -9}, "value": -5}, "labels": false, "title": null}},
     "y": {"field": "lo", "type": "quantitative", "scale": {"domain": [0.7, 1.2], "zero": false}, "axis": {"orient": "right", "values": [0.7,0.75,0.8,0.85,0.9,0.95,1,1.05,1.1,1.15,1.2], "tickSize": {"condition": {"test": "datum.value==0.8||datum.value==1", "value": -9}, "value": -5}, "labels": false, "title": null}},
     "y2": {"field": "hi"}}},
   {"transform": [{"filter": "datum.p == 'Fe' && datum.s != 'c'"}], "mark": {"type": "point", "shape": "triangle-up", "filled": true, "size": 110, "stroke": "black", "strokeWidth": 2.2, "opacity": 1},
    "encoding": {"x": {"field": "x", "type": "quantitative", "scale": {"type": "log", "domain": [0.001, 1]}, "axis": null},
     "y": {"field": "y", "type": "quantitative", "scale": {"domain": [0.7, 1.2], "zero": false}, "axis": null},
     "fill": {"field": "s", "type": "nominal", "scale": {"domain": ["NMC", "E-139"], "range": ["#ebedeb", "black"]}, "legend": null}}},
   {"data": {"values": [{"t": "Fe/D"}]}, "mark": {"type": "text", "align": "left", "baseline": "alphabetic", "font": "Liberation Serif", "fontSize": 27, "color": "black"},
    "encoding": {"x": {"datum": 0.00198, "type": "quantitative", "scale": {"type": "log", "domain": [0.001, 1]}, "axis": null}, "y": {"datum": 1.112, "type": "quantitative", "scale": {"domain": [0.7, 1.2], "zero": false}, "axis": null}, "text": {"field": "t"}}}
  ]},
 {"width": 477, "height": 238.75, "data": {"name": "d"}, "resolve": {"axis": {"x": "independent", "y": "independent"}},
  "layer": [
   {"data": {"values": [{}]}, "mark": {"type": "rule", "strokeDash": [1.5, 5], "strokeWidth": 1.2, "color": "black"}, "encoding": {"y": {"datum": 1, "type": "quantitative", "scale": {"domain": [0.7, 1.2], "zero": false}, "axis": null}}},
   {"transform": [{"filter": "datum.p == 'Ag' && datum.s == 'c'"}], "mark": {"type": "line", "color": "black", "strokeWidth": 1.3, "interpolate": "monotone"},
    "encoding": {"x": {"field": "x", "type": "quantitative", "scale": {"type": "log", "domain": [0.001, 1]}, "axis": {"orient": "bottom", "values": [0.001,0.002,0.003,0.004,0.005,0.006,0.007,0.008,0.009,0.01,0.02,0.03,0.04,0.05,0.06,0.07,0.08,0.09,0.1,0.2,0.3,0.4,0.5,0.6,0.7,0.8,0.9,1], "tickSize": {"condition": {"test": "datum.value==0.001||datum.value==0.01||datum.value==0.1||datum.value==1", "value": -9}, "value": -5}, "labels": true, "labelExpr": "datum.value==0.01||datum.value==0.1?'10':datum.value==1?'1':''", "labelAlign": {"condition": {"test": "datum.value==1", "value": "center"}, "value": "right"}, "labelOffset": {"condition": {"test": "datum.value==1", "value": 0}, "value": 4}, "labelFontSize": {"condition": {"test": "datum.value==0.01||datum.value==0.1||datum.value==1", "value": 32}, "value": 0}, "labelBaseline": "alphabetic", "labelPadding": 59, "title": "x", "titleFontSize": 34, "titleX": 479, "titleY": 104, "titleAlign": "left", "titleBaseline": "alphabetic", "titleAngle": 0}},
     "y": {"field": "y", "type": "quantitative", "scale": {"domain": [0.7, 1.2], "zero": false}, "axis": {"orient": "left", "values": [0.7,0.75,0.8,0.85,0.9,0.95,1,1.05,1.1,1.15,1.2], "tickSize": {"condition": {"test": "datum.value==0.8||datum.value==1", "value": -9}, "value": -5}, "labels": true, "labelExpr": "datum.value==1?'1':datum.value==0.8?'0.8':''", "labelFontSize": {"condition": {"test": "datum.value==0.8||datum.value==1", "value": 28}, "value": 0}, "labelPadding": 25, "labelBaseline": "middle", "labelAlign": "right", "title": null}}}},
   {"transform": [{"filter": "datum.p == 'Ag' && datum.s != 'c'"}], "mark": {"type": "rule", "color": "black", "strokeWidth": 2.5},
    "encoding": {"x": {"field": "x", "type": "quantitative", "scale": {"type": "log", "domain": [0.001, 1]}, "axis": {"orient": "top", "values": [0.001,0.002,0.003,0.004,0.005,0.006,0.007,0.008,0.009,0.01,0.02,0.03,0.04,0.05,0.06,0.07,0.08,0.09,0.1,0.2,0.3,0.4,0.5,0.6,0.7,0.8,0.9,1], "tickSize": {"condition": {"test": "datum.value==0.001||datum.value==0.01||datum.value==0.1||datum.value==1", "value": -9}, "value": -5}, "labels": false, "title": null}},
     "y": {"field": "lo", "type": "quantitative", "scale": {"domain": [0.7, 1.2], "zero": false}, "axis": {"orient": "right", "values": [0.7,0.75,0.8,0.85,0.9,0.95,1,1.05,1.1,1.15,1.2], "tickSize": {"condition": {"test": "datum.value==0.8||datum.value==1", "value": -9}, "value": -5}, "labels": false, "title": null}},
     "y2": {"field": "hi"}}},
   {"transform": [{"filter": "datum.p == 'Ag' && datum.s != 'c'"}], "mark": {"type": "point", "shape": "triangle-up", "filled": true, "size": 110, "stroke": "black", "strokeWidth": 2.2, "opacity": 1},
    "encoding": {"x": {"field": "x", "type": "quantitative", "scale": {"type": "log", "domain": [0.001, 1]}, "axis": {"orient": "bottom", "values": [0.01, 0.1], "ticks": false, "tickSize": 0, "labelExpr": "datum.value==0.01?'-2':'-1'", "labelAlign": "left", "labelOffset": 14, "labelFontSize": 20, "labelBaseline": "alphabetic", "labelPadding": 27.5, "title": "N", "titleFontSize": 24, "titleX": 494, "titleY": 110, "titleAlign": "left", "titleBaseline": "alphabetic", "titleAngle": 0}},
     "y": {"field": "y", "type": "quantitative", "scale": {"domain": [0.7, 1.2], "zero": false}, "axis": null},
     "fill": {"field": "s", "type": "nominal", "scale": {"domain": ["NMC", "E-139"], "range": ["#ebedeb", "black"]}, "legend": null}}},
   {"data": {"values": [{"t": "Ag/D"}]}, "mark": {"type": "text", "align": "left", "baseline": "alphabetic", "font": "Liberation Serif", "fontSize": 27, "color": "black"},
    "encoding": {"x": {"datum": 0.00198, "type": "quantitative", "scale": {"type": "log", "domain": [0.001, 1]}, "axis": null}, "y": {"datum": 1.112, "type": "quantitative", "scale": {"domain": [0.7, 1.2], "zero": false}, "axis": null}, "text": {"field": "t"}}}
  ]},
 {"width": 477, "height": 238.75, "data": {"name": "d"}, "resolve": {"axis": {"x": "independent", "y": "independent"}},
  "layer": [
   {"data": {"values": [{}]}, "mark": {"type": "rule", "strokeDash": [1.5, 5], "strokeWidth": 1.2, "color": "black"}, "encoding": {"y": {"datum": 1, "type": "quantitative", "scale": {"domain": [0.7, 1.2], "zero": false}, "axis": null}}},
   {"transform": [{"filter": "datum.p == 'Au' && datum.s == 'c'"}], "mark": {"type": "line", "color": "black", "strokeWidth": 1.3, "interpolate": "monotone"},
    "encoding": {"x": {"field": "x", "type": "quantitative", "scale": {"type": "log", "domain": [0.001, 1]}, "axis": {"orient": "bottom", "values": [0.001,0.002,0.003,0.004,0.005,0.006,0.007,0.008,0.009,0.01,0.02,0.03,0.04,0.05,0.06,0.07,0.08,0.09,0.1,0.2,0.3,0.4,0.5,0.6,0.7,0.8,0.9,1], "tickSize": {"condition": {"test": "datum.value==0.001||datum.value==0.01||datum.value==0.1||datum.value==1", "value": -9}, "value": -5}, "labels": true, "labelExpr": "datum.value==0.01||datum.value==0.1?'10':datum.value==1?'1':''", "labelAlign": {"condition": {"test": "datum.value==1", "value": "center"}, "value": "right"}, "labelOffset": {"condition": {"test": "datum.value==1", "value": 0}, "value": 4}, "labelFontSize": {"condition": {"test": "datum.value==0.01||datum.value==0.1||datum.value==1", "value": 32}, "value": 0}, "labelBaseline": "alphabetic", "labelPadding": 59, "title": null}},
     "y": {"field": "y", "type": "quantitative", "scale": {"domain": [0.7, 1.2], "zero": false}, "axis": {"orient": "left", "values": [0.7,0.75,0.8,0.85,0.9,0.95,1,1.05,1.1,1.15,1.2], "tickSize": {"condition": {"test": "datum.value==0.8||datum.value==1", "value": -9}, "value": -5}, "labels": false, "title": null}}}},
   {"transform": [{"filter": "datum.p == 'Au' && datum.s != 'c'"}], "mark": {"type": "rule", "color": "black", "strokeWidth": 2.5},
    "encoding": {"x": {"field": "x", "type": "quantitative", "scale": {"type": "log", "domain": [0.001, 1]}, "axis": {"orient": "top", "values": [0.001,0.002,0.003,0.004,0.005,0.006,0.007,0.008,0.009,0.01,0.02,0.03,0.04,0.05,0.06,0.07,0.08,0.09,0.1,0.2,0.3,0.4,0.5,0.6,0.7,0.8,0.9,1], "tickSize": {"condition": {"test": "datum.value==0.001||datum.value==0.01||datum.value==0.1||datum.value==1", "value": -9}, "value": -5}, "labels": false, "title": null}},
     "y": {"field": "lo", "type": "quantitative", "scale": {"domain": [0.7, 1.2], "zero": false}, "axis": {"orient": "right", "values": [0.7,0.75,0.8,0.85,0.9,0.95,1,1.05,1.1,1.15,1.2], "tickSize": {"condition": {"test": "datum.value==0.8||datum.value==1", "value": -9}, "value": -5}, "labels": false, "title": null}},
     "y2": {"field": "hi"}}},
   {"transform": [{"filter": "datum.p == 'Au' && datum.s != 'c'"}], "mark": {"type": "point", "shape": "triangle-up", "filled": true, "size": 110, "stroke": "black", "strokeWidth": 2.2, "opacity": 1},
    "encoding": {"x": {"field": "x", "type": "quantitative", "scale": {"type": "log", "domain": [0.001, 1]}, "axis": {"orient": "bottom", "values": [0.01, 0.1], "ticks": false, "tickSize": 0, "labelExpr": "datum.value==0.01?'-2':'-1'", "labelAlign": "left", "labelOffset": 14, "labelFontSize": 20, "labelBaseline": "alphabetic", "labelPadding": 27.5, "title": null}},
     "y": {"field": "y", "type": "quantitative", "scale": {"domain": [0.7, 1.2], "zero": false}, "axis": null},
     "fill": {"field": "s", "type": "nominal", "scale": {"domain": ["NMC", "E-139"], "range": ["#ebedeb", "black"]}, "legend": null}}},
   {"data": {"values": [{"t": "Au/D"}]}, "mark": {"type": "text", "align": "left", "baseline": "alphabetic", "font": "Liberation Serif", "fontSize": 27, "color": "black"},
    "encoding": {"x": {"datum": 0.00198, "type": "quantitative", "scale": {"type": "log", "domain": [0.001, 1]}, "axis": null}, "y": {"datum": 1.112, "type": "quantitative", "scale": {"domain": [0.7, 1.2], "zero": false}, "axis": null}, "text": {"field": "t"}}}
  ]}
]
}
